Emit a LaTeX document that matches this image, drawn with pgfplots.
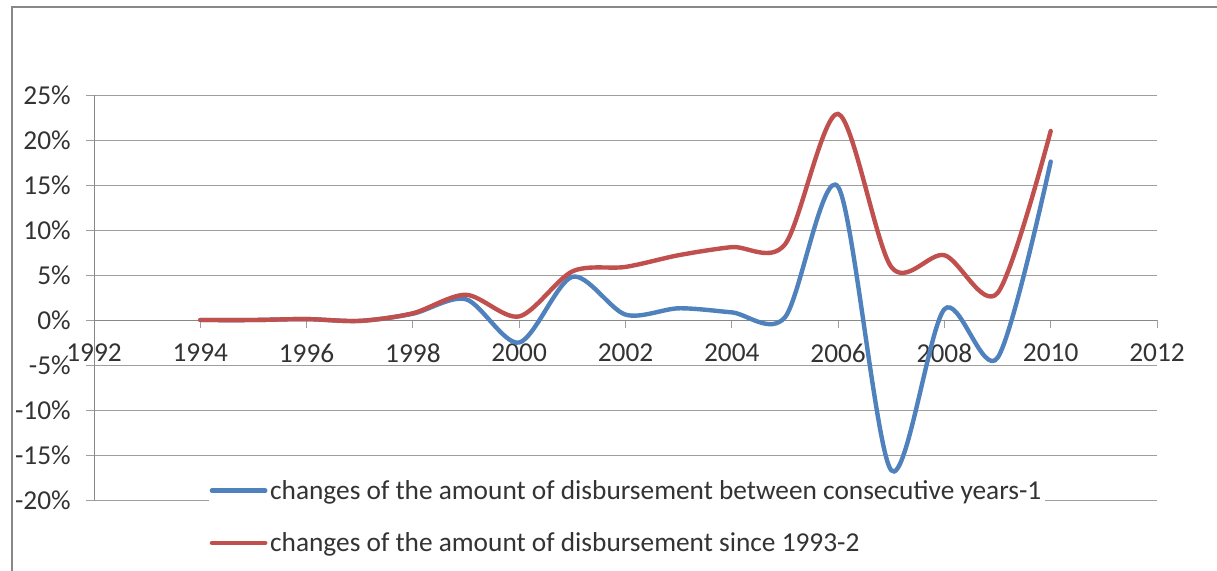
\documentclass[border=0pt]{standalone}
\usepackage{pgfplots}
\pgfplotsset{compat=1.18}
\usepackage{fontspec}
\setmainfont{Carlito}
\definecolor{xblue}{HTML}{4F81BD}
\definecolor{xred}{HTML}{C0504D}
\definecolor{xgrid}{HTML}{9E9E9E}
\definecolor{xaxis}{HTML}{888888}
\definecolor{xtext}{HTML}{333333}
\begin{document}
\begin{tikzpicture}
\useasboundingbox (0,0) rectangle (912.75pt,-428.25pt);
\draw[xaxis, line width=1.5pt] (9pt,-430pt) -- (9pt,-5.5pt) -- (915pt,-5.5pt);
\begin{axis}[
  at={(70.5pt,-375pt)}, anchor=south west,
  scale only axis, width=797.25pt, height=303.75pt,
  xmin=1992, xmax=2012, ymin=-20, ymax=25,
  axis x line*=middle, axis y line*=left,
  hide obscured x ticks=false, hide obscured y ticks=false,
  axis line style={xaxis, line width=0.75pt},
  xtick={1992,1994,...,2012},
  xticklabels={1992,1994,1996,1998,2000,2002,2004,2006,2008,2010,2012},
  ytick={-20,-15,...,25},
  yticklabels={-20\%,-15\%,-10\%,-5\%,0\%,5\%,10\%,15\%,20\%,25\%},
  ymajorgrids,
  grid style={xgrid, line width=0.75pt},
  tick align=outside, major tick length=6pt,
  tick style={xgrid, line width=0.75pt},
  tick label style={font=\fontsize{20.5}{24}\selectfont, text=xtext},
  xticklabel style={anchor=north, yshift=-8.5pt},
  yticklabel style={anchor=east, xshift=-8pt},
  legend style={at={(0.108,0.0546)}, anchor=north west, draw=none, fill=white,
    font=\fontsize{20.5}{24}\selectfont, text=xtext, row sep=21.5pt, inner sep=0.5pt,
    nodes={inner ysep=1pt}},
  legend cell align=left,
  legend image code/.code={\draw[#1, line width=3.3pt, line cap=round] (0pt,0pt) -- (40pt,0pt);},
]
\addplot[xblue, line width=3.3pt, smooth, line cap=round] coordinates {
(1994,0) (1995,0) (1996,0.1) (1997,-0.1) (1998,0.7) (1999,2.3) (2000,-2.5)
(2001,4.8) (2002,0.6) (2003,1.3) (2004,0.85) (2005,0.3) (2006,14.8)
(2007,-16.7) (2008,1.2) (2009,-4.2) (2010,17.6)};
\addlegendentry{changes of the amount of disbursement between consecutive years-1}
\addplot[xred, line width=3.3pt, smooth, line cap=round] coordinates {
(1994,0) (1995,0) (1996,0.1) (1997,-0.1) (1998,0.75) (1999,2.8) (2000,0.4)
(2001,5.4) (2002,5.9) (2003,7.2) (2004,8.1) (2005,8.4) (2006,22.9)
(2007,5.9) (2008,7.2) (2009,3.0) (2010,21.0)};
\addlegendentry{changes of the amount of disbursement since 1993-2}
\end{axis}
\end{tikzpicture}
\end{document}
